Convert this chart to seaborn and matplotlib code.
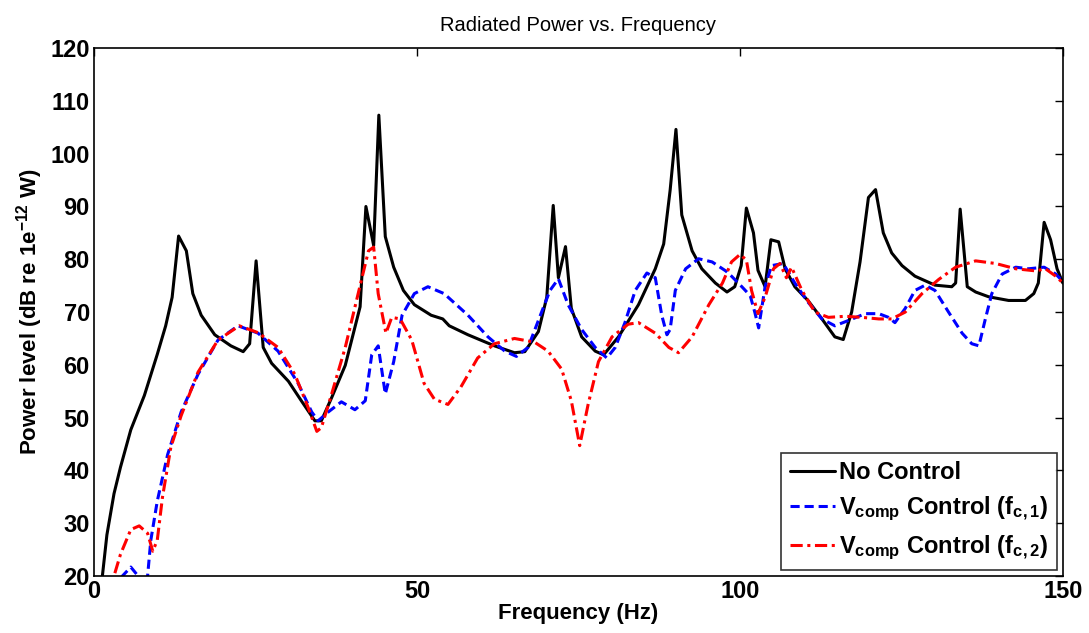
import numpy as np
import pandas as pd
import matplotlib
matplotlib.use("Agg")
import matplotlib.pyplot as plt
import seaborn as sns

# No Control
nc_f = [0.5, 1.3, 2.0, 3.1, 4.1, 5.7, 7.8, 9.8, 11.1, 12.1, 13.1, 14.3, 15.3, 16.6, 18.7, 21.2, 23.1, 24.1, 25.1,
        26.2, 27.5, 30.1, 32.1, 34.2, 35.2, 36.8, 38.9, 41.2, 42.1, 43.3, 44.1, 45.1, 46.4, 47.9, 49.6, 52.2,
        54.0, 55.0, 57.9, 62.0, 65.1, 66.7, 68.8, 70.1, 71.1, 71.9, 73.0, 73.9, 75.5, 77.6, 78.9, 81.2, 84.3,
        86.9, 88.2, 89.2, 90.1, 91.0, 92.6, 94.1, 96.2, 98.0, 99.2, 100.2, 101.0, 102.1, 102.8, 103.9, 104.8,
        106.0, 107.0, 108.5, 110.6, 112.7, 114.7, 116.0, 117.3, 118.6, 119.9, 121.0, 122.2, 123.5, 125.1,
        127.1, 130.2, 132.8, 133.4, 134.1, 135.2, 136.5, 138.5, 141.6, 144.2, 145.5, 146.2, 147.1, 148.1,
        149.1, 150.0]
nc_db = [10, 20, 27.8, 35.6, 40.6, 47.7, 54.2, 62.0, 67.4, 72.8, 84.4, 81.6, 73.5, 69.4, 65.7, 63.6, 62.5, 64.0, 79.7,
         63.3, 60.3, 56.9, 53.2, 49.4, 49.4, 53.8, 59.9, 71.0, 90.0, 82.6, 107.3, 84.3, 78.5, 74.1, 71.4, 69.4,
         68.7, 67.4, 65.7, 63.6, 62.3, 62.5, 66.3, 72.8, 90.2, 76.5, 82.4, 70.7, 65.3, 62.6, 61.9, 65.3, 71.4,
         78.2, 82.9, 93.1, 104.6, 88.4, 81.6, 78.2, 75.5, 73.8, 74.8, 78.8, 89.7, 85.0, 77.9, 74.8, 83.7,
         83.3, 78.2, 74.8, 72.1, 68.7, 65.3, 64.8, 70.0, 79.5, 91.7, 93.2, 85.0, 81.2, 78.8,
         76.8, 75.1, 74.8, 75.5, 89.5, 74.8, 73.8, 72.9, 72.2, 72.2, 73.5, 75.5, 87.0, 83.7,
         78.2, 75.5]

# V_comp Control (f_c,1)
c1_f = [4.0, 4.4, 5.7, 6.7, 7.5, 8.3, 8.8, 9.8, 11.4, 13.5, 16.1, 19.2, 22.3, 25.4, 28.5, 31.6, 33.7, 34.7, 36.3,
        38.3, 40.4, 42.0, 43.0, 44.0, 45.1, 46.4, 47.7, 49.6, 51.7, 54.2, 57.9, 61.0, 63.6, 65.4, 67.2, 69.3,
        70.6, 71.9, 73.4, 75.5, 77.6, 79.4, 80.7, 82.2, 83.8, 85.6, 86.9, 87.9, 88.7, 89.2, 90.0, 91.6, 93.6,
        95.7, 97.8, 98.7, 100.3, 101.6, 102.3, 102.9, 103.9, 104.9, 106.7, 108.5, 110.6, 112.7, 114.7, 116.8,
        119.4, 121.5, 123.0, 124.0, 125.6, 127.1, 128.7, 130.2, 132.3, 134.4, 135.9, 137.0, 138.0, 139.0,
        140.6, 142.7, 144.7, 147.1, 148.9, 150.0]
c1_db = [17, 20, 21.7, 20.2, 18, 20, 26.8, 34.2, 43.0, 51.1, 58.2, 64.7, 67.4, 66.0, 62.6, 56.5, 51.1, 49.4, 51.1,
         53.0, 51.5, 53.2, 61.9, 63.6, 54.5, 60.6, 69.4, 73.5, 74.8, 73.5, 69.4, 65.3, 62.6, 61.6, 63.3, 70.0,
         74.1, 76.3, 71.4, 66.7, 63.3, 61.3, 63.3, 68.0, 74.1, 77.4, 76.5, 69.4, 65.7, 66.7, 74.1, 78.2, 80.1,
         79.5, 77.8, 76.8, 74.8, 73.1, 70.0, 67.0, 74.8, 78.8, 79.2, 75.5, 71.8, 68.7, 67.4, 68.4,
         69.7, 69.7, 69.0, 68.0, 70.7, 74.1, 75.1, 74.1, 70.0, 66.0, 64.0, 63.6, 68.7, 73.5,
         77.2, 78.5, 78.2, 78.5, 77.2, 75.8]

# V_comp Control (f_c,2)
c2_f = [2.5, 3.1, 4.1, 5.7, 7.0, 8.3, 9.1, 9.8, 10.6, 11.9, 13.5, 16.1, 19.2, 22.5, 25.4, 28.5, 31.1, 33.2, 34.5,
        35.2, 36.8, 38.9, 40.9, 42.5, 43.3, 44.0, 45.2, 46.1, 47.4, 49.2, 51.1, 52.7, 54.8, 56.8, 59.4, 62.0,
        65.1, 68.2, 70.3, 72.4, 73.9, 75.2, 76.5, 78.1, 80.2, 82.7, 84.3, 86.9, 89.0, 90.5, 92.6, 95.2, 97.3,
        98.7, 100.0, 101.0, 101.8, 102.8, 103.9, 105.2, 106.2, 107.2, 108.0, 109.6, 111.6, 113.7, 116.3,
        118.9, 121.5, 123.5, 125.6, 128.2, 130.8, 133.4, 136.5, 139.6, 142.7, 145.8, 147.3, 148.9, 150.0]
c2_db = [16, 20, 24.1, 28.8, 29.5, 28.1, 24.7, 26.8, 34.9, 44.4, 50.4, 58.6, 64.7, 67.4, 66.1, 63.3, 58.2, 51.8, 47.4,
         48.1, 54.5, 63.3, 73.5, 81.6, 82.3, 73.5, 66.0, 69.0, 68.7, 64.7, 56.5, 53.5, 52.5, 55.8, 61.3, 64.0,
         65.0, 64.3, 62.6, 59.2, 53.2, 44.7, 52.5, 60.6, 65.3, 67.7, 68.0, 66.0, 63.3, 62.3, 65.3, 71.4, 75.5,
         79.5, 80.9, 79.9, 74.1, 69.7, 72.8, 78.2, 79.2, 76.5, 78.5, 74.1, 70.0, 69.0, 69.2,
         69.0, 68.7, 68.7, 70.0, 73.5, 76.2, 78.5, 79.7, 79.2, 78.2, 77.8, 78.2, 76.8, 75.5]

labels = ["No Control",
          r"V$_{\mathregular{comp}}$ Control (f$_{\mathregular{c,1}}$)",
          r"V$_{\mathregular{comp}}$ Control (f$_{\mathregular{c,2}}$)"]

sns.set_style("white")
plt.rcParams['font.family'] = ['Liberation Sans', 'DejaVu Sans']
plt.rcParams['mathtext.default'] = 'regular'
for k in ['text.color', 'axes.labelcolor', 'xtick.color', 'ytick.color', 'axes.edgecolor']:
    plt.rcParams[k] = 'black'

fig = plt.figure(figsize=(10.89, 6.33), dpi=100)
ax = fig.add_axes([0.0863, 0.090, 0.8897, 0.834])

df0 = pd.DataFrame({"f": nc_f, "db": nc_db})
df1 = pd.DataFrame({"f": c1_f, "db": c1_db})
df2 = pd.DataFrame({"f": c2_f, "db": c2_db})

sns.lineplot(data=df0, x="f", y="db", ax=ax, color="black", lw=2.2, sort=False, label=labels[0])
sns.lineplot(data=df1, x="f", y="db", ax=ax, color="#0000ff", lw=2.2, sort=False, label=labels[1],
             linestyle=(0, (3, 1.6)))
sns.lineplot(data=df2, x="f", y="db", ax=ax, color="#ff0000", lw=2.2, sort=False, label=labels[2],
             linestyle=(0, (4, 1.5, 1, 1.5)))

ax.set_xlim(0, 150)
ax.set_ylim(20, 120)
ax.set_xticks([0, 50, 100, 150])
ax.set_yticks(np.arange(20, 121, 10))
ax.tick_params(direction="in", length=6, width=1, top=True, right=True, labelsize=17, pad=3)
for t in ax.get_xticklabels() + ax.get_yticklabels():
    t.set_fontweight("bold")
for s in ax.spines.values():
    s.set_color("black")
    s.set_linewidth(1.2)

ax.set_xlabel("Frequency (Hz)", fontsize=16, fontweight="bold", labelpad=0)
ax.set_ylabel(r"Power level (dB re 1e$^{\mathregular{-12}}$ W)", fontsize=16, fontweight="bold", labelpad=4)
ax.set_title("Radiated Power vs. Frequency", fontsize=14.5, pad=12)

leg = ax.legend(loc="lower right", frameon=True, fancybox=False, borderaxespad=0.25,
                handlelength=1.9, handletextpad=0.2, labelspacing=0.45, borderpad=0.35,
                prop={"weight": "bold", "size": 17})
leg.get_frame().set_edgecolor("black")
leg.get_frame().set_linewidth(1.2)

fig.savefig("out.png", dpi=100)
